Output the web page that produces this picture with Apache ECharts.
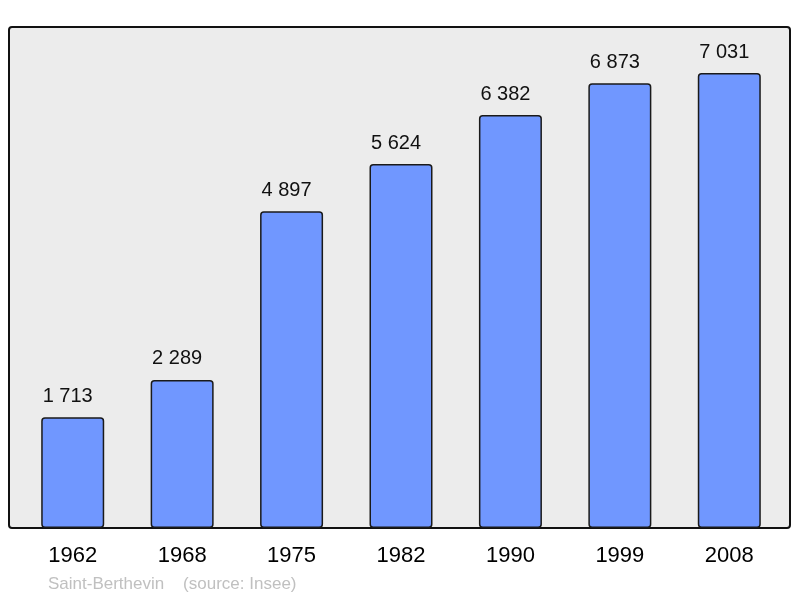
<!DOCTYPE html>
<html><head><meta charset="utf-8">
<script src="https://cdn.jsdelivr.net/npm/echarts@6/dist/echarts.min.js"></script>
<style>html,body{margin:0;padding:0;background:#fff}#c{width:800px;height:598px}</style>
</head><body><div id="c"></div>
<script>
var years = ['1962','1968','1975','1982','1990','1999','2008'];
var population = [1713, 2289, 4897, 5624, 6382, 6873, 7031];
var footer = 'Saint-Berthevin    (source: Insee)';

function fmt(v){ return String(v).replace(/\B(?=(\d{3})+(?!\d))/g, ' '); }

var chart = echarts.init(document.getElementById('c'), null, {renderer:'canvas'});
chart.setOption({
  animation:false,
  backgroundColor:'#ffffff',
  grid:{left:18, right:16, top:27, bottom:70},
  xAxis:{type:'category', data:years,
    axisLine:{show:false}, axisTick:{show:false},
    axisLabel:{color:'#000', fontSize:22, fontFamily:'Liberation Sans, Arial, sans-serif', margin:17}},
  yAxis:{type:'value', min:0, max:7743, show:false, splitLine:{show:false}},
  graphic:[
    {type:'rect', z:-10, shape:{x:9, y:27, width:781, height:501, r:3},
     style:{fill:'#ececec', stroke:'#111', lineWidth:2}},
    {type:'text', left:48, top:576, style:{text:footer, fill:'#c0c0c0', font:'17px Liberation Sans, Arial, sans-serif'}}
  ],
  series:[{
    type:'bar', data:population, barWidth:63,
    itemStyle:{color:'#7097ff', borderColor:'#1a1a1a', borderWidth:1.5, borderRadius:3},
    label:{show:true, position:'top', distance:11, offset:[-5,0], color:'#111', fontSize:20,
      fontFamily:'Liberation Sans, Arial, sans-serif', formatter:function(p){return fmt(p.value);}}
  }]
});
</script></body></html>
